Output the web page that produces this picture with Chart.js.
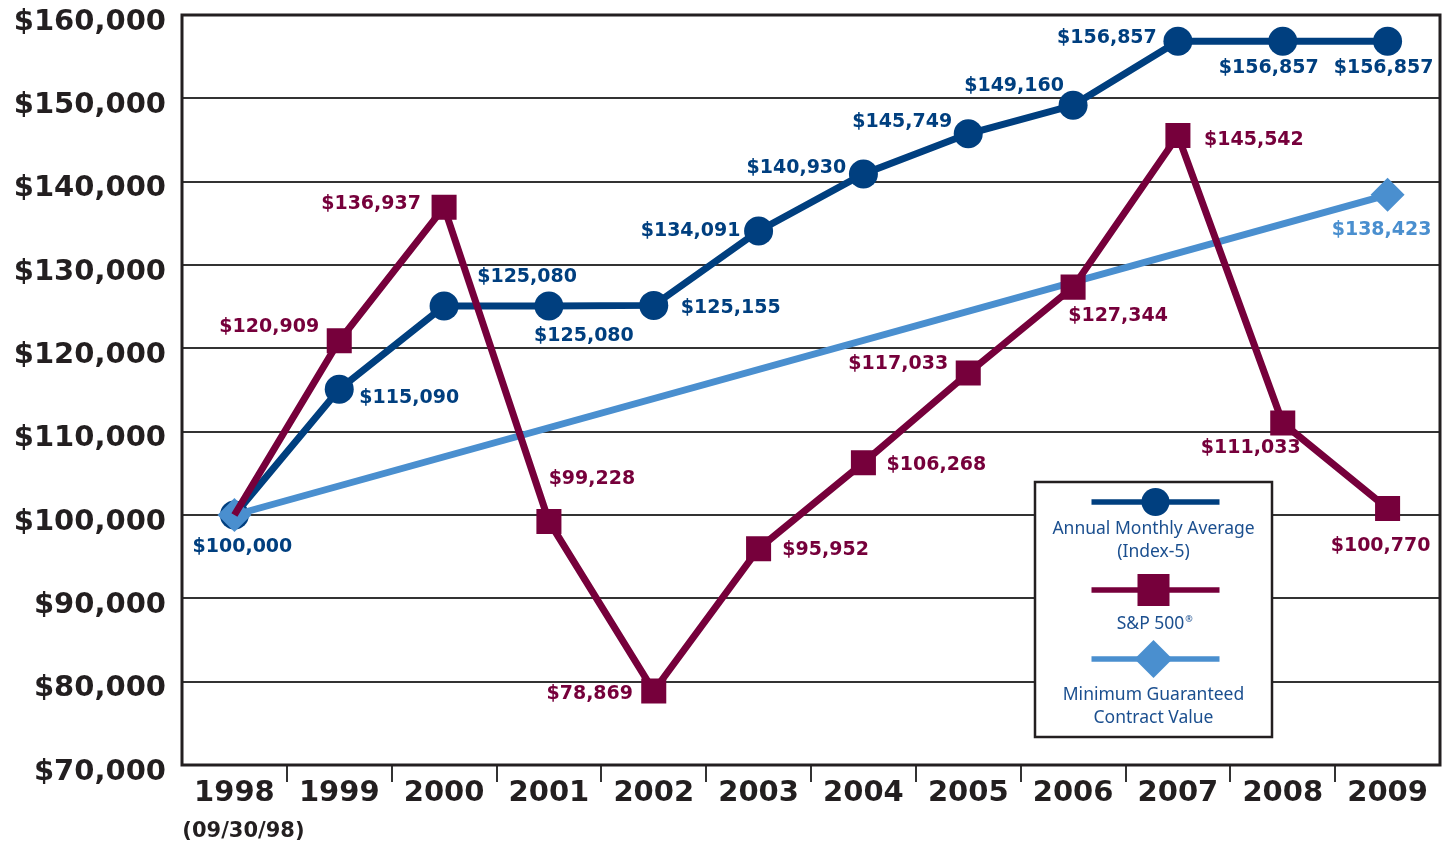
<!DOCTYPE html>
<html><head><meta charset="utf-8">
<script src="https://cdn.jsdelivr.net/npm/chart.js@4"></script>
<style>html,body{margin:0;padding:0;background:#fff;}canvas{display:block;}</style>
</head><body>
<canvas id="c" width="1447" height="845"></canvas>
<script>
// ---- data ----
const years = ['1998','1999','2000','2001','2002','2003','2004','2005','2006','2007','2008','2009'];
const startNote = '(09/30/98)';
const index5 = [100000,115090,125080,125080,125155,134091,140930,145749,149160,156857,156857,156857];
const sp500 = [100000,120909,136937,99228,78869,95952,106268,117033,127344,145542,111033,100770];
const minGuaranteed = [100000,null,null,null,null,null,null,null,null,null,null,138423];
const yMin = 70000, yMax = 160000, yStep = 10000;
const seriesNames = ['Annual Monthly Average (Index-5)', 'S&P 500®', 'Minimum Guaranteed Contract Value'];

// ---- styling ----
const NAVY = '#003f7f', MAROON = '#76003b', LIGHT = '#4a8fcf', INK = '#231f20', LEGEND_TXT = '#1b4f8f';
const FONT = '"DejaVu Sans", sans-serif';
// label offsets (dx, dy) relative to each point
const navyLabelPos = [[8,32],[70,9],[83,-29],[35,30],[77,3],[-68,0],[-67,-6],[-66,-12],[-59,-19],[-71,-3],[-14,27],[-4,27]];
const maroonLabelPos = [null,[-70,-14],[-73,-3],[43,-42],[-64,3],[67,1],[73,2],[-70,-9],[45,29],[76,5],[-32,25],[-7,37]];
const lightLabelPos = [null,null,null,null,null,null,null,null,null,null,null,[-6,35]];
const labelPos = [navyLabelPos, maroonLabelPos, lightLabelPos];

const fmt = v => '$' + v.toLocaleString('en-US');

const frame = {
  id: 'frame',
  beforeDatasetsDraw(chart) {
    const {ctx, chartArea: a} = chart;
    ctx.save();
    ctx.strokeStyle = INK; ctx.lineWidth = 3;
    ctx.strokeRect(a.left, a.top, a.right - a.left, a.bottom - a.top);
    ctx.restore();
  }
};

const valueLabels = {
  id: 'valueLabels',
  afterDatasetsDraw(chart) {
    const ctx = chart.ctx;
    ctx.save();
    ctx.font = 'bold 19px ' + FONT;
    ctx.textAlign = 'center'; ctx.textBaseline = 'middle';
    chart.data.datasets.forEach((ds, di) => {
      const meta = chart.getDatasetMeta(di);
      ctx.fillStyle = ds.borderColor;
      ds.data.forEach((v, i) => {
        const p = labelPos[di][i];
        if (v == null || !p) return;
        const pt = meta.data[i];
        ctx.fillText(fmt(v), pt.x + p[0], pt.y + p[1]);
      });
    });
    ctx.restore();
  }
};

const extras = {
  id: 'extras',
  afterDraw(chart) {
    const ctx = chart.ctx;
    const xs = chart.scales.x;
    ctx.save();
    // sub note under first category
    ctx.font = 'bold 21px ' + FONT;
    ctx.fillStyle = INK; ctx.textAlign = 'center'; ctx.textBaseline = 'middle';
    ctx.fillText(startNote, xs.getPixelForValue(0) + 9, 832);

    // legend box
    const bx = 1035, by = 482, bw = 237, bh = 255, cx = bx + bw / 2;
    ctx.fillStyle = '#fff';
    ctx.fillRect(bx, by, bw, bh);
    ctx.strokeStyle = INK; ctx.lineWidth = 2.5;
    ctx.strokeRect(bx, by, bw, bh);
    const ds = chart.data.datasets;
    const sample = (y, color, style) => {
      ctx.strokeStyle = color; ctx.lineWidth = 5.5;
      ctx.beginPath(); ctx.moveTo(cx - 62, y); ctx.lineTo(cx + 66, y); ctx.stroke();
      ctx.fillStyle = color;
      ctx.beginPath();
      if (style === 'circle') ctx.arc(cx + 2, y, 14, 0, Math.PI * 2);
      else if (style === 'rect') ctx.rect(cx - 16, y - 16, 32, 32);
      else { ctx.moveTo(cx, y - 19); ctx.lineTo(cx + 19, y); ctx.lineTo(cx, y + 19); ctx.lineTo(cx - 19, y); ctx.closePath(); }
      ctx.fill();
    };
    sample(502, ds[0].borderColor, 'circle');
    sample(590, ds[1].borderColor, 'rect');
    sample(659, ds[2].borderColor, 'rectRot');
    const LF = '17.5px "Noto Sans", sans-serif';
    ctx.fillStyle = LEGEND_TXT;
    ctx.font = LF;
    ctx.textAlign = 'center'; ctx.textBaseline = 'middle';
    ctx.fillText('Annual Monthly Average', cx, 529);
    ctx.fillText('(Index-5)', cx, 552);
    ctx.fillText('S&P 500', cx - 3, 624);
    const w = ctx.measureText('S&P 500').width;
    ctx.font = '9px "Noto Sans", sans-serif';
    ctx.textAlign = 'left';
    ctx.fillText('®', cx - 3 + w / 2 + 1, 619);
    ctx.font = LF;
    ctx.textAlign = 'center';
    ctx.fillText('Minimum Guaranteed', cx, 695);
    ctx.fillText('Contract Value', cx, 718);
    ctx.restore();
  }
};

new Chart(document.getElementById('c'), {
  type: 'line',
  data: {
    labels: years,
    datasets: [
      { label: seriesNames[0], data: index5, borderColor: NAVY, backgroundColor: NAVY,
        borderWidth: 7, pointStyle: 'circle', pointRadius: 14.5, pointBorderWidth: 0,
        pointBackgroundColor: NAVY, order: 2 },
      { label: seriesNames[1], data: sp500, borderColor: MAROON, backgroundColor: MAROON,
        borderWidth: 7, pointStyle: 'rect', pointRadius: sp500.map((v, i) => i === 0 ? 0 : 17.7), pointBorderWidth: 0,
        pointBackgroundColor: MAROON, order: 0 },
      { label: seriesNames[2], data: minGuaranteed, borderColor: LIGHT, backgroundColor: LIGHT,
        borderWidth: 7, pointStyle: 'rectRot', pointRadius: 17, pointBorderWidth: 0,
        pointBackgroundColor: LIGHT, spanGaps: true, order: 1 }
    ]
  },
  options: {
    responsive: false,
    animation: false,
    layout: { autoPadding: false, padding: { top: 15, right: 7, left: 0, bottom: 0 } },
    plugins: { legend: { display: false }, tooltip: { enabled: false } },
    elements: { line: { tension: 0 } },
    scales: {
      x: {
        offset: true,
        border: { display: false },
        grid: {
          offset: true, drawOnChartArea: false, drawTicks: true, tickLength: 17, lineWidth: 2,
          color: c => (c.index > 0 && c.index < years.length) ? '#333' : 'rgba(0,0,0,0)'
        },
        ticks: { color: INK, font: { family: FONT, size: 29, weight: 'bold' }, padding: -6, maxRotation: 0, autoSkip: false },
        afterFit: s => { s.height = 80; s.paddingLeft = 0; s.paddingRight = 0; }
      },
      y: {
        min: yMin, max: yMax,
        border: { display: false },
        grid: { color: '#333', lineWidth: 2, drawTicks: false },
        ticks: { stepSize: yStep, color: INK, font: { family: FONT, size: 29, weight: 'bold', lineHeight: 1 }, padding: 16, labelOffset: 7,
          callback: v => fmt(v) },
        afterFit: s => { s.width = 182; s.paddingTop = 0; s.paddingBottom = 0; }
      }
    }
  },
  plugins: [frame, valueLabels, extras]
});
</script>
</body></html>
